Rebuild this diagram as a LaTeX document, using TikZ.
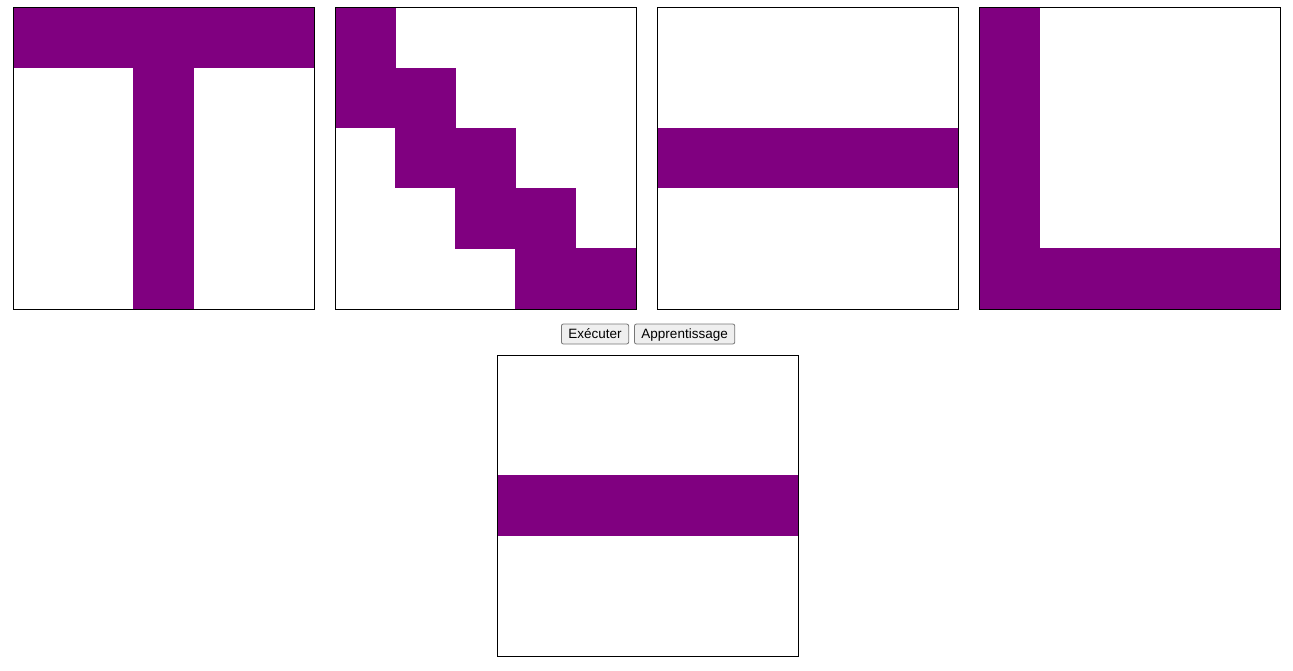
\documentclass[tikz,border=0pt]{standalone}
\usepackage{fontspec}
\setmainfont{Liberation Sans}
\usetikzlibrary{positioning}
\definecolor{violet}{HTML}{800080}
\definecolor{boutonfond}{HTML}{EFEFEF}
\definecolor{boutonbord}{HTML}{767676}
\tikzset{
	cellule/.style={fill=violet},
	cadre/.style={draw=black, line width=1pt},
	bouton/.style={draw=boutonbord, fill=boutonfond, rounded corners=2pt, line width=0.8pt,
		inner xsep=7pt, inner ysep=0pt, text height=10pt, text depth=1.5pt, minimum height=20pt,
		font=\fontsize{13.5}{15}\selectfont}
}
% grille 5x5, cellules de 60 : #1 = origine, #2 = liste ligne/colonne
\newcommand{\grille}[2]{
	\begin{scope}[shift={#1}]
		\foreach \l/\c in {#2}{
			\fill [cellule] (60*\c,60*\l) rectangle ++(60.5,60.5);
		}
		\draw [cadre] (0,0) rectangle (301,301);
	\end{scope}
}

\begin{document}
\begin{tikzpicture}[x=1pt, y=-1pt]
		\useasboundingbox (0,0) rectangle (1293,671);
		\grille{(13,8)}{0/0,0/1,0/2,0/3,0/4,1/2,2/2,3/2,4/2}
		\grille{(335,8)}{0/0,1/0,1/1,2/1,2/2,3/2,3/3,4/3,4/4}
		\grille{(657,8)}{2/0,2/1,2/2,2/3,2/4}
		\grille{(979,8)}{0/0,1/0,2/0,3/0,4/0,4/1,4/2,4/3,4/4}
		\grille{(497,355)}{2/0,2/1,2/2,2/3,2/4}
		\node [bouton, anchor=west] (executer) at (561,334) {Exécuter};
		\node [bouton, right=5pt of executer] (apprentissage) {Apprentissage};
	\end{tikzpicture}
\end{document}
